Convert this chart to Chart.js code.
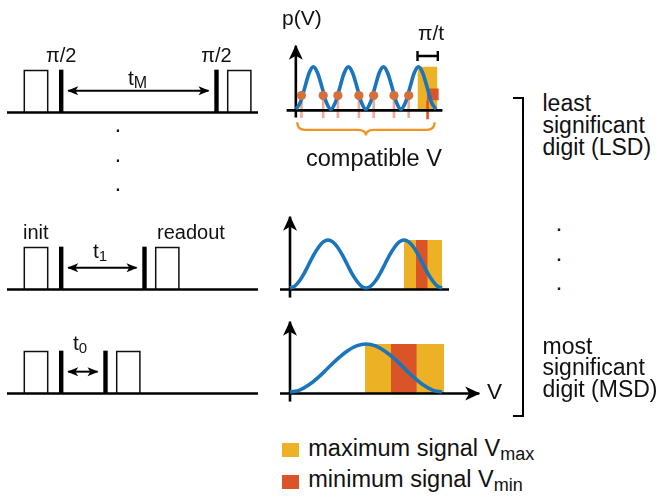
<!DOCTYPE html>
<html><head><meta charset="utf-8">
<script src="https://cdn.jsdelivr.net/npm/chart.js@4.4.0/dist/chart.umd.min.js"></script>
<style>
html,body{margin:0;padding:0;background:#fff;}
#fig{position:relative;width:662px;height:500px;overflow:hidden;font-family:"Liberation Sans",Arial,Helvetica,sans-serif;color:#111;}
#fig canvas{position:absolute;}
.t{position:absolute;white-space:nowrap;line-height:1;}
.sq{position:absolute;}
</style></head><body><div id="fig"></div>
<script>
// ================= DATA =================
// V grid (arbitrary units) and measured signal p(V) for each digit
const vTop = [0,0.031,0.063,0.094,0.125,0.156,0.188,0.219,0.25,0.281,0.313,0.344,0.375,0.406,0.438,0.469,0.5,0.531,0.563,0.594,0.625,0.656,0.688,0.719,0.75,0.781,0.813,0.844,0.875,0.906,0.938,0.969,1];
const pTop = [0,0.15,0.5,0.85,1,0.85,0.5,0.15, 0,0.15,0.5,0.85,1,0.85,0.5,0.15, 0,0.15,0.5,0.85,1,0.85,0.5,0.15, 0,0.15,0.5,0.85,1,0.85,0.5,0.15, 0];
const vMid = [0,0.031,0.063,0.094,0.125,0.156,0.188,0.219,0.25,0.281,0.313,0.344,0.375,0.406,0.438,0.469,0.5,0.531,0.563,0.594,0.625,0.656,0.688,0.719,0.75,0.781,0.813,0.844,0.875,0.906,0.938,0.969,1];
const pMid = [0,0.04,0.15,0.31,0.5,0.69,0.85,0.96,1,0.96,0.85,0.69,0.5,0.31,0.15,0.04, 0,0.04,0.15,0.31,0.5,0.69,0.85,0.96,1,0.96,0.85,0.69,0.5,0.31,0.15,0.04, 0];
const vBot = [0,0.063,0.125,0.188,0.25,0.313,0.375,0.438,0.5,0.563,0.625,0.688,0.75,0.813,0.875,0.938,1];
const pBot = [0,0.04,0.15,0.31,0.5,0.69,0.85,0.96,1,0.96,0.85,0.69,0.5,0.31,0.15,0.04,0];

// compatible V values (LSD measurement) and the signal level measured
const compatV = [0.04,0.195,0.30,0.45,0.555,0.70,0.805];
const compatInWindow = 0.94;
const measuredSignal = 0.32;
const compatSpan = [0.01,0.99];

// V_max and V_min windows [from, to] per digit (LSD, middle, MSD)
const vmaxWin = [[0.868,1.01],[0.75,1.0],[0.493,1.013]];
const vminWin = [[0.934,1.02],[0.829,0.906],[0.664,0.834]];
const vminSignalLSD = [0.21,0.49];
const piOverT = [0.868,1.013];

// Pulse sequences: free evolution times t_M, t_1, t_0 (arbitrary time units)
const evolution = [155.3, 83.3, 44.3];
const initPulse = [24.3, 47.7];
const piPulseAt = 61.2;
const readoutDelay = 11.2;
const readoutLen = 23.2;
const seqSpan = [7, 258];

// ================= STYLE / LAYOUT =================
const BLUE='#1b75bc', YELLOW='#ecb125', RED='#db5427', ORANGE='#f39322', DOTC='#d4703c', PINK='#f2aa96', INK='#000';
const X0=290, SX=152, SY=48;   // V -> px mapping of plot panels
const AX=-0.03;                // axis level in p units
const fig=document.getElementById('fig');

const arrowPlugin={
  id:'arrowheads',
  afterDatasetsDraw(chart){
    const ctx=chart.ctx;
    chart.data.datasets.forEach((ds,i)=>{
      if(!ds.arrowStart && !ds.arrowEnd) return;
      const pts=chart.getDatasetMeta(i).data;
      if(pts.length<2) return;
      const L=ds.arrowLen||12, W=ds.arrowHalf||6;
      const draw=(tip,from)=>{
        const dx=tip.x-from.x, dy=tip.y-from.y, d=Math.hypot(dx,dy);
        const ux=dx/d, uy=dy/d, px=-uy, py=ux;
        ctx.save(); ctx.fillStyle=ds.borderColor; ctx.beginPath();
        ctx.moveTo(tip.x+ux*1,tip.y+uy*1);
        ctx.lineTo(tip.x-L*ux+W*px,tip.y-L*uy+W*py);
        ctx.lineTo(tip.x-0.72*L*ux,tip.y-0.72*L*uy);
        ctx.lineTo(tip.x-L*ux-W*px,tip.y-L*uy-W*py);
        ctx.closePath(); ctx.fill(); ctx.restore();
      };
      if(ds.arrowEnd) draw(pts[pts.length-1],pts[pts.length-2]);
      if(ds.arrowStart) draw(pts[0],pts[1]);
    });
  }
};
const bracePlugin={
  id:'brace',
  afterDatasetsDraw(chart,args,opts){
    if(!opts||!opts.span) return;
    const xs=chart.scales.x, ys=chart.scales.y, ctx=chart.ctx;
    const x0=xs.getPixelForValue(opts.span[0]), x1=xs.getPixelForValue(opts.span[1]);
    const yE=ys.getPixelForValue(opts.levels[0]), yM=ys.getPixelForValue(opts.levels[1]), yT=ys.getPixelForValue(opts.levels[2]);
    const xc=(x0+x1)/2, r=8;
    ctx.save(); ctx.strokeStyle=opts.color; ctx.lineWidth=2.3; ctx.beginPath();
    ctx.moveTo(x0,yE); ctx.quadraticCurveTo(x0,yM,x0+r,yM); ctx.lineTo(xc-r,yM);
    ctx.quadraticCurveTo(xc,yM,xc,yT); ctx.quadraticCurveTo(xc,yM,xc+r,yM);
    ctx.lineTo(x1-r,yM); ctx.quadraticCurveTo(x1,yM,x1,yE); ctx.stroke(); ctx.restore();
  }
};

function makeChart(box, xr, yr, datasets, extraPlugins, pluginOpts){
  const c=document.createElement('canvas');
  c.width=box.w; c.height=box.h; c.style.left=box.l+'px'; c.style.top=box.t+'px';
  c.style.width=box.w+'px'; c.style.height=box.h+'px';
  fig.appendChild(c);
  return new Chart(c,{type:'line',data:{datasets},
    options:{responsive:false,animation:false,events:[],devicePixelRatio:1,
      layout:{padding:0},
      plugins:Object.assign({legend:{display:false},tooltip:{enabled:false}},pluginOpts||{}),
      elements:{line:{tension:0,borderCapStyle:'butt',fill:false},point:{radius:0,hitRadius:0,hoverRadius:0}},
      scales:{x:{type:'linear',display:false,min:xr[0],max:xr[1]},y:{type:'linear',display:false,min:yr[0],max:yr[1]}}},
    plugins:[arrowPlugin].concat(extraPlugins||[])});
}
function seg(pts,color,w,extra){return Object.assign({data:pts.map(p=>({x:p[0],y:p[1]})),borderColor:color,borderWidth:w,pointRadius:0,fill:false},extra||{});}
function rect(x0,x1,y0,y1,color,order){return {data:[{x:x0,y:y1},{x:x1,y:y1}],borderColor:'rgba(0,0,0,0)',borderWidth:0,backgroundColor:color,fill:{value:y0},pointRadius:0,order};}
function curve(v,p){return {data:v.map((x,i)=>({x,y:p[i]})),borderColor:BLUE,borderWidth:3.6,cubicInterpolationMode:'monotone',pointRadius:0,fill:false,order:3};}

// ---------- plot panels ----------
function panel(box, baseY, v, p, k, tipP, xEnd, extra){
  const xr=[(box.l-X0)/SX,(box.l+box.w-X0)/SX];
  const yr=[(baseY-(box.t+box.h))/SY,(baseY-box.t)/SY];
  const ds=[
    rect(vmaxWin[k][0],vmaxWin[k][1],AX,1.0,YELLOW,10),
    seg([[-0.066,AX],[xEnd,AX]],INK,2.6,{order:5,arrowEnd:k===2,arrowLen:14,arrowHalf:7}),
    seg([[0,-0.2],[0,tipP]],INK,2.6,{order:5,arrowEnd:true,arrowLen:14,arrowHalf:7}),
    curve(v,p)
  ];
  if(k===0) ds.push(rect(vminWin[k][0],vminWin[k][1],vminSignalLSD[0],vminSignalLSD[1],RED,9));
  else ds.push(rect(vminWin[k][0],vminWin[k][1],AX,1.0,RED,9));
  return makeChart(box,xr,yr,ds.concat(extra.ds||[]),extra.plugins,extra.opts);
}

const lsdExtra={ds:[], plugins:[bracePlugin], opts:{brace:{span:compatSpan,levels:[-0.31,-0.49,-0.625],color:ORANGE}}};
compatV.forEach(v=>lsdExtra.ds.push(seg([[v,measuredSignal],[v,-0.21]],PINK,2.6,{order:7})));
lsdExtra.ds.push(seg([[compatInWindow,vminSignalLSD[0]],[compatInWindow,-0.24]],RED,2.6,{order:6}));
lsdExtra.ds.push({data:compatV.map(v=>({x:v,y:measuredSignal})),showLine:false,pointRadius:4.6,pointBackgroundColor:DOTC,pointBorderWidth:0,order:1});
lsdExtra.ds.push(seg([[piOverT[0],1.256],[piOverT[1],1.256]],INK,2.4,{order:1,pointStyle:'line',pointRadius:5,pointRotation:90,pointBorderWidth:2.4,pointBorderColor:INK}));

panel({l:270,t:26,w:190,h:124},112,vTop,pTop,0,1.5,1.046,lsdExtra);
panel({l:270,t:205,w:190,h:100},288,vMid,pMid,1,1.485,1.046,{});
panel({l:270,t:310,w:220,h:95},392,vBot,pBot,2,1.465,1.245,{});

// ---------- pulse sequences ----------
function pulseRow(box, baseY, t){
  const SA=42;
  const xr=[box.l,box.l+box.w];
  const yr=[(baseY-(box.t+box.h))/SA,(baseY-box.t)/SA];
  const pi2=piPulseAt+t, ro=pi2+readoutDelay;
  const ds=[
    seg([[seqSpan[0],0],[seqSpan[1],0]],INK,2.6),
    seg([[initPulse[0],0],[initPulse[0],1],[initPulse[1],1],[initPulse[1],0]],'#111',1.5),
    seg([[piPulseAt,0],[piPulseAt,1.02]],INK,4.4),
    seg([[pi2,0],[pi2,1.02]],INK,4.4),
    seg([[ro,0],[ro,1],[ro+readoutLen,1],[ro+readoutLen,0]],'#111',1.5),
    seg([[piPulseAt+7,0.52],[pi2-8,0.52]],INK,2,{arrowStart:true,arrowEnd:true,arrowLen:10,arrowHalf:4.5})
  ];
  return makeChart(box,xr,yr,ds);
}
pulseRow({l:0,t:55,w:270,h:70},112.5,evolution[0]);
pulseRow({l:0,t:235,w:270,h:65},289.5,evolution[1]);
pulseRow({l:0,t:340,w:270,h:65},393.5,evolution[2]);

// ---------- text ----------
function txt(html,x,base,size,align){
  const s=document.createElement('div'); s.className='t';
  s.innerHTML=html; s.style.fontSize=size+'px';
  s.style.top=(base-0.8465*size)+'px';
  if(align==='c'){s.style.left=x+'px'; s.style.transform='translateX(-50%)';}
  else s.style.left=x+'px';
  fig.appendChild(s); return s;
}
const sub=(s,sz,dy)=>'<span style="font-size:'+sz+'px;position:relative;top:'+dy+'px">'+s+'</span>';
const FL=20, FR=23;
txt('π/2',piPulseAt,62,FL,'c');
txt('π/2',piPulseAt+evolution[0],62,FL,'c');
txt('t'+sub('M',16,3),128,85,FL+1);
txt('init',23,239,FL);
txt('readout',157,239,FL);
txt('t'+sub('1',15,3),93,258,FL+1);
txt('t'+sub('0',15,3),73,350,FL+1);
txt('p(V)',282,25,21);
txt('π/t',431,40,21,'c');
txt('compatible V',306,166.5,23.5);
txt('V',487,400.5,22.5);
['least','significant','digit (LSD)'].forEach((s,i)=>txt(s,542.5,111.7+i*21.7,FR));
['most','significant','digit (MSD)'].forEach((s,i)=>txt(s,542.5,354+i*21.7,FR));
txt('maximum signal V'+sub('max',18,4),308.3,456.7,23.5);
txt('minimum signal V'+sub('min',18,4),308.3,487.7,23.5);
[131,161,190].forEach(y=>txt('.',118,y+1.5,FR,'c'));
[230,260,289].forEach(y=>txt('.',559,y+1.5,FR,'c'));
function sq(x,y,w,h,c,style){const d=document.createElement('div');d.className='sq';d.style.cssText='left:'+x+'px;top:'+y+'px;width:'+w+'px;height:'+h+'px;'+(c?'background:'+c+';':'')+(style||'');fig.appendChild(d);}
sq(282,443,17,14,YELLOW);
sq(282,475,17,14,RED);
sq(513,96.5,8.5,316,null,'border:2.5px solid #000;border-left:none;');
</script></body></html>
